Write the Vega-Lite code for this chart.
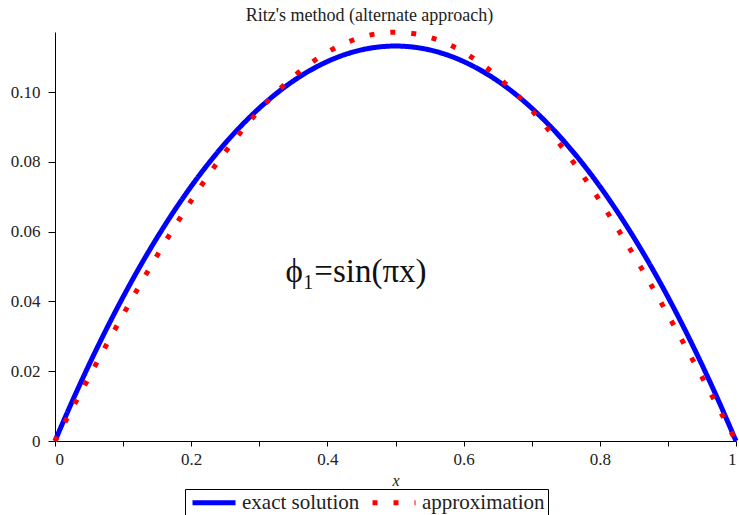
{
  "$schema": "https://vega.github.io/schema/vega-lite/v6.json",
  "width": 681,
  "height": 409,
  "autosize": {"type": "none"},
  "padding": {"left": 55, "top": 32, "right": 3, "bottom": 74},
  "background": "white",
  "title": {"text": "Ritz's method (alternate approach)", "font": "Liberation Serif", "fontSize": 18, "fontWeight": "normal", "color": "#222222", "frame": "group", "anchor": "middle", "offset": 10, "dy": 13, "dx": -26},
  "config": {
    "font": "Liberation Serif",
    "view": {"stroke": null},
    "axis": {"grid": false, "domainColor": "black", "tickColor": "black", "labelFont": "Liberation Serif", "labelFontSize": 17, "labelColor": "#222222"},
    "legend": {"orient": "none", "legendX": 130, "legendY": 457, "direction": "horizontal", "title": null, "strokeColor": "black", "padding": 3, "symbolType": "M-1.2,0H7.4", "symbolSize": 100, "symbolStrokeWidth": 5, "labelFont": "Liberation Serif", "labelFontSize": 21, "labelColor": "#222222", "labelOffset": 33, "columnPadding": 2}
  },
  "layer": [
    {
      "data": {"values": [
        {"series": "exact solution", "x": 0, "y": 0},
        {"series": "exact solution", "x": 0.025, "y": 0.011242},
        {"series": "exact solution", "x": 0.05, "y": 0.021865},
        {"series": "exact solution", "x": 0.075, "y": 0.031878},
        {"series": "exact solution", "x": 0.1, "y": 0.041285},
        {"series": "exact solution", "x": 0.125, "y": 0.050093},
        {"series": "exact solution", "x": 0.15, "y": 0.058306},
        {"series": "exact solution", "x": 0.175, "y": 0.065933},
        {"series": "exact solution", "x": 0.2, "y": 0.072974},
        {"series": "exact solution", "x": 0.225, "y": 0.079437},
        {"series": "exact solution", "x": 0.25, "y": 0.085323},
        {"series": "exact solution", "x": 0.275, "y": 0.090639},
        {"series": "exact solution", "x": 0.3, "y": 0.095386},
        {"series": "exact solution", "x": 0.325, "y": 0.099567},
        {"series": "exact solution", "x": 0.35, "y": 0.103186},
        {"series": "exact solution", "x": 0.375, "y": 0.106244},
        {"series": "exact solution", "x": 0.4, "y": 0.108744},
        {"series": "exact solution", "x": 0.425, "y": 0.110686},
        {"series": "exact solution", "x": 0.45, "y": 0.112072},
        {"series": "exact solution", "x": 0.475, "y": 0.112904},
        {"series": "exact solution", "x": 0.5, "y": 0.113181},
        {"series": "exact solution", "x": 0.525, "y": 0.112904},
        {"series": "exact solution", "x": 0.55, "y": 0.112072},
        {"series": "exact solution", "x": 0.575, "y": 0.110686},
        {"series": "exact solution", "x": 0.6, "y": 0.108744},
        {"series": "exact solution", "x": 0.625, "y": 0.106244},
        {"series": "exact solution", "x": 0.65, "y": 0.103186},
        {"series": "exact solution", "x": 0.675, "y": 0.099567},
        {"series": "exact solution", "x": 0.7, "y": 0.095386},
        {"series": "exact solution", "x": 0.725, "y": 0.090639},
        {"series": "exact solution", "x": 0.75, "y": 0.085323},
        {"series": "exact solution", "x": 0.775, "y": 0.079437},
        {"series": "exact solution", "x": 0.8, "y": 0.072974},
        {"series": "exact solution", "x": 0.825, "y": 0.065933},
        {"series": "exact solution", "x": 0.85, "y": 0.058306},
        {"series": "exact solution", "x": 0.875, "y": 0.050093},
        {"series": "exact solution", "x": 0.9, "y": 0.041285},
        {"series": "exact solution", "x": 0.925, "y": 0.031878},
        {"series": "exact solution", "x": 0.95, "y": 0.021865},
        {"series": "exact solution", "x": 0.975, "y": 0.011242},
        {"series": "exact solution", "x": 1, "y": 0},
        {"series": "approximation", "x": 0, "y": 0},
        {"series": "approximation", "x": 0.025, "y": 0.009191},
        {"series": "approximation", "x": 0.05, "y": 0.018325},
        {"series": "approximation", "x": 0.075, "y": 0.027346},
        {"series": "approximation", "x": 0.1, "y": 0.036199},
        {"series": "approximation", "x": 0.125, "y": 0.044828},
        {"series": "approximation", "x": 0.15, "y": 0.053181},
        {"series": "approximation", "x": 0.175, "y": 0.061206},
        {"series": "approximation", "x": 0.2, "y": 0.068854},
        {"series": "approximation", "x": 0.225, "y": 0.076077},
        {"series": "approximation", "x": 0.25, "y": 0.082832},
        {"series": "approximation", "x": 0.275, "y": 0.089075},
        {"series": "approximation", "x": 0.3, "y": 0.094769},
        {"series": "approximation", "x": 0.325, "y": 0.099879},
        {"series": "approximation", "x": 0.35, "y": 0.104374},
        {"series": "approximation", "x": 0.375, "y": 0.108224},
        {"series": "approximation", "x": 0.4, "y": 0.111408},
        {"series": "approximation", "x": 0.425, "y": 0.113904},
        {"series": "approximation", "x": 0.45, "y": 0.115699},
        {"series": "approximation", "x": 0.475, "y": 0.11678},
        {"series": "approximation", "x": 0.5, "y": 0.117141},
        {"series": "approximation", "x": 0.525, "y": 0.11678},
        {"series": "approximation", "x": 0.55, "y": 0.115699},
        {"series": "approximation", "x": 0.575, "y": 0.113904},
        {"series": "approximation", "x": 0.6, "y": 0.111408},
        {"series": "approximation", "x": 0.625, "y": 0.108224},
        {"series": "approximation", "x": 0.65, "y": 0.104374},
        {"series": "approximation", "x": 0.675, "y": 0.099879},
        {"series": "approximation", "x": 0.7, "y": 0.094769},
        {"series": "approximation", "x": 0.725, "y": 0.089075},
        {"series": "approximation", "x": 0.75, "y": 0.082832},
        {"series": "approximation", "x": 0.775, "y": 0.076077},
        {"series": "approximation", "x": 0.8, "y": 0.068854},
        {"series": "approximation", "x": 0.825, "y": 0.061206},
        {"series": "approximation", "x": 0.85, "y": 0.053181},
        {"series": "approximation", "x": 0.875, "y": 0.044828},
        {"series": "approximation", "x": 0.9, "y": 0.036199},
        {"series": "approximation", "x": 0.925, "y": 0.027346},
        {"series": "approximation", "x": 0.95, "y": 0.018325},
        {"series": "approximation", "x": 0.975, "y": 0.009191},
        {"series": "approximation", "x": 1, "y": 0}
      ]},
      "mark": {"type": "line", "strokeWidth": 5, "strokeCap": "butt", "interpolate": "monotone"},
      "encoding": {
        "x": {"field": "x", "type": "quantitative", "scale": {"domain": [0, 1], "nice": false},
          "axis": {"values": [0, 0.1, 0.2, 0.3, 0.4, 0.5, 0.6, 0.7, 0.8, 0.9, 1], "labelExpr": "round(datum.value*10) % 2 == 0 ? format(datum.value, '.1~f') : ''", "labelFont": "Liberation Serif", "labelFontSize": 17, "tickSize": 5, "labelPadding": 5, "title": "x", "titleFont": "Liberation Serif", "titleFontStyle": "italic", "titleFontWeight": "normal", "titleFontSize": 16, "titleColor": "#222222", "titlePadding": 5}},
        "y": {"field": "y", "type": "quantitative", "scale": {"domain": [0, 0.1172], "nice": false},
          "axis": {"values": [0, 0.01, 0.02, 0.03, 0.04, 0.05, 0.06, 0.07, 0.08, 0.09, 0.1, 0.11], "labelExpr": "datum.value == 0 ? '0' : (round(datum.value*100) % 2 == 0 ? format(datum.value, '.2f') : '')", "labelFont": "Liberation Serif", "labelFontSize": 17, "tickSize": 7, "labelPadding": 8, "title": null}},
        "color": {"field": "series", "type": "nominal", "scale": {"domain": ["exact solution", "approximation"], "range": ["#0000ff", "#ff0000"]}, "legend": {"labelFont": "Liberation Serif"}},
        "strokeDash": {"field": "series", "type": "nominal", "scale": {"domain": ["exact solution", "approximation"], "range": [[1, 0], [5, 16]]}, "legend": {"labelFont": "Liberation Serif"}}
      }
    },
    {
      "data": {"values": [{"x": 0.442, "y": 0.0485, "label": "ϕ₁=sin(πx)"}]},
      "mark": {"type": "text", "font": "Liberation Serif", "fontSize": 33, "align": "center", "baseline": "middle", "color": "#111111"},
      "encoding": {
        "x": {"field": "x", "type": "quantitative"},
        "y": {"field": "y", "type": "quantitative"},
        "text": {"field": "label"}
      }
    }
  ]
}
